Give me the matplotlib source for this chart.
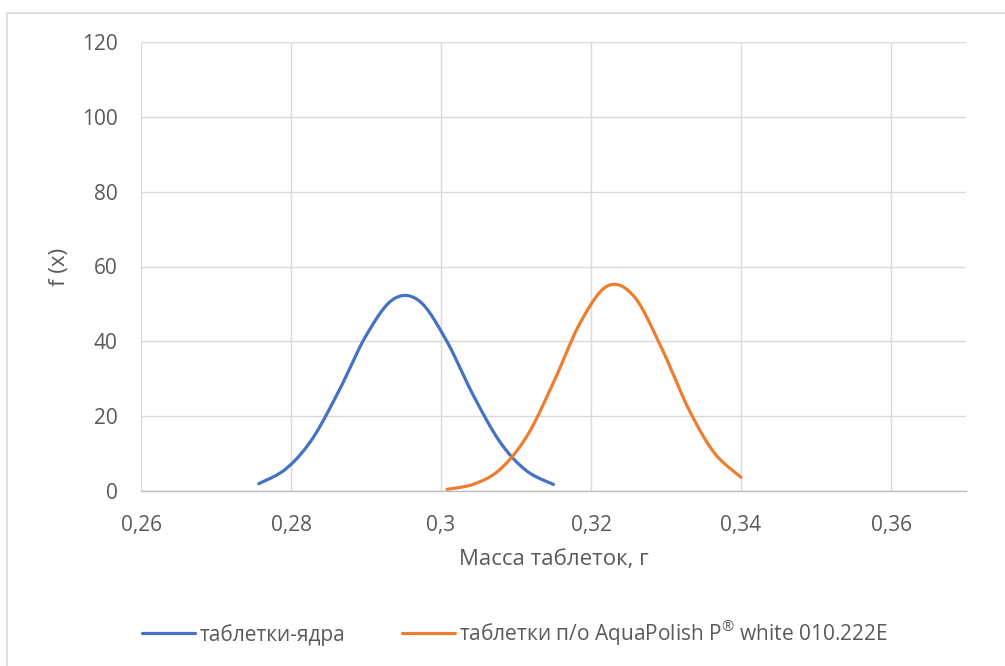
import matplotlib
matplotlib.use("Agg")
import matplotlib.pyplot as plt
import numpy as np
from matplotlib.patches import Rectangle

plt.rcParams['font.family'] = ['Open Sans', 'DejaVu Sans']
plt.rcParams['mathtext.default'] = 'regular'

# Tablet core masses (g) and density values f(x)
core_x = [0.2757, 0.2793, 0.2828, 0.2864, 0.2900, 0.2936,
          0.2971, 0.3007, 0.3043, 0.3079, 0.3114, 0.3150]
core_y = [1.95, 5.87, 13.8, 26.8, 41.5, 51.2,
          50.8, 40.3, 25.6, 13.0, 5.40, 1.76]

# Film-coated tablet masses (g) and density values f(x)
coated_x = [0.3008, 0.3044, 0.3079, 0.3115, 0.3150, 0.3186,
            0.3222, 0.3257, 0.3293, 0.3329, 0.3364, 0.3400]
coated_y = [0.44, 1.85, 5.82, 14.8, 29.0, 45.1,
            54.8, 52.1, 38.7, 22.4, 10.3, 3.67]

x_ticks = [0.26, 0.28, 0.30, 0.32, 0.34, 0.36]
x_tick_labels = ["0,26", "0,28", "0,3", "0,32", "0,34", "0,36"]
y_ticks = [0, 20, 40, 60, 80, 100, 120]

series_names = ["таблетки-ядра", "таблетки п/о AquaPolish P$^{®}$ white 010.222E"]


def smoothed(xs, ys, steps=24):
    """Catmull-Rom curve through the points (smoothed line rendering)."""
    p = np.column_stack([xs, ys]).astype(float)
    p = np.vstack([p[0], p, p[-1]])
    t = np.linspace(0, 1, steps, endpoint=False)[:, None]
    out = []
    for i in range(1, len(p) - 2):
        p0, p1, p2, p3 = p[i - 1], p[i], p[i + 1], p[i + 2]
        seg = 0.5 * ((2 * p1) + (-p0 + p2) * t + (2 * p0 - 5 * p1 + 4 * p2 - p3) * t ** 2
                     + (-p0 + 3 * p1 - 3 * p2 + p3) * t ** 3)
        out.append(seg)
    out.append(p[-2][None, :])
    out = np.vstack(out)
    return out[:, 0], out[:, 1]


W, H = 1005, 666
fig = plt.figure(figsize=(W / 100, H / 100), dpi=100)
ax = fig.add_axes([141 / W, 1 - 491 / H, (966 - 141) / W, (491 - 42) / H])

text_color = "#595959"
grid_color = "#d9d9d9"

cx, cy = smoothed(core_x, core_y)
ox, oy = smoothed(coated_x, coated_y)
ax.plot(cx, cy, color="#4472C4", lw=2.3, solid_capstyle="round", label=series_names[0])
ax.plot(ox, oy, color="#ED7D31", lw=2.3, solid_capstyle="round", label=series_names[1])

ax.set_xlim(0.26, 0.37)
ax.set_ylim(0, 120)
ax.set_xticks(x_ticks)
ax.set_xticklabels(x_tick_labels)
ax.set_yticks(y_ticks)
ax.grid(True, color=grid_color, lw=1.0)
ax.set_axisbelow(True)
for side in ("top", "right", "left"):
    ax.spines[side].set_visible(False)
ax.spines["bottom"].set_color("#bfbfbf")
ax.spines["bottom"].set_linewidth(1.0)
ax.tick_params(length=0, labelsize=15, colors=text_color)
ax.tick_params(axis="x", pad=17)
ax.tick_params(axis="y", pad=17)

ax.set_xlabel("Масса таблеток, г", fontsize=16, color=text_color)
ax.xaxis.set_label_coords(0.5, (491 - 549) / 449)
ax.set_ylabel("f (x)", fontsize=16, color=text_color)
ax.yaxis.set_label_coords((70 - 141) / 825, 0.5)

fig.legend(loc="center left", bbox_to_anchor=(142 / W, 1 - 633 / H), ncol=2, frameon=False,
           fontsize=15, handlelength=2.55, handletextpad=0.22, columnspacing=2.7,
           borderpad=0, borderaxespad=0, labelcolor=text_color)

fig.patches.append(Rectangle((7 / W, -0.1), 1.2, 1 - 13 / H + 0.1, transform=fig.transFigure,
                             fill=False, edgecolor="#d9d9d9", lw=1.2))

fig.savefig("out.png", dpi=100, facecolor="white")
